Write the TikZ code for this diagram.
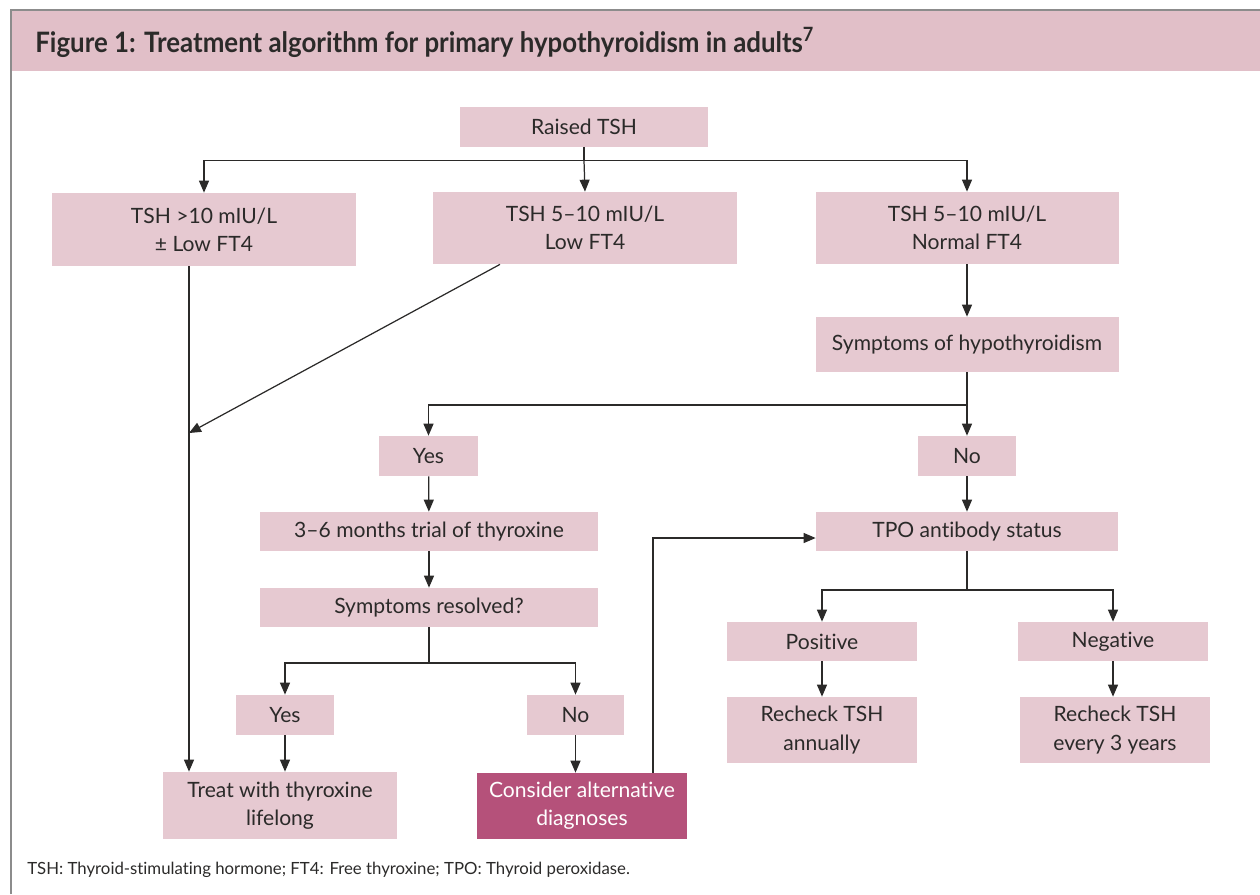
\documentclass[tikz,border=0pt]{standalone}
\usepackage{fontspec}
\setmainfont{Lato}[Ligatures={NoCommon}]
\usetikzlibrary{arrows.meta}
\definecolor{boxpink}{HTML}{E6C9D1}
\definecolor{headpink}{HTML}{E1BFC8}
\definecolor{darkpink}{HTML}{B5517A}
\definecolor{txt}{HTML}{2B2A29}
\definecolor{frame}{HTML}{8C8C8C}
\tikzset{
  box/.style={fill=boxpink, inner sep=0pt, align=center, text=txt,
    font=\fontsize{12}{16}\selectfont},
  alt/.style={box, fill=darkpink, text=white},
  conn/.style={draw=txt, line width=0.7pt},
  arr/.style={conn, -{Triangle[length=0.24cm, width=0.2cm]}},
  bs/.style 2 args={minimum width={#1*0.02cm}, minimum height={#2*0.02cm}},
}
\begin{document}
\begin{tikzpicture}[x=0.02cm, y=-0.02cm]
\useasboundingbox (0,0) rectangle (1260,894);
% frame and header
\fill[headpink] (11,11) rectangle (1260,71);
\draw[frame, line width=0.8pt] (11,894) -- (11,10) -- (1260,10);
\node[anchor=west, text=txt, inner sep=0pt] (title) at (35,42)
  {\scalebox{0.92}[1]{\fontsize{16}{19}\selectfont\bfseries Figure 1: Treatment algorithm for primary hypothyroidism in adults\textsuperscript{7}}};
\node[anchor=west, text=txt, inner sep=0pt, font=\fontsize{9.55}{11}\selectfont] (foot) at (27,870)
  {TSH: Thyroid-stimulating hormone; FT4: Free thyroxine; TPO: Thyroid peroxidase.};

% boxes
\node[box, bs={248}{40}] (raised) at (584,126.5) {Raised TSH};
\node[box, bs={304}{73}] (tshA) at (204,229.5) {TSH >10 mIU/L\\± Low FT4};
\node[box, bs={304}{72}] (tshB) at (585,228) {TSH 5–10 mIU/L\\Low FT4};
\node[box, bs={303}{72}] (tshC) at (967,228) {TSH 5–10 mIU/L\\Normal FT4};
\node[box, bs={303}{55}] (sympt) at (967,344.5) {Symptoms of hypothyroidism};
\node[box, bs={99}{40}] (yes1) at (428.5,456) {Yes};
\node[box, bs={98}{40}] (no1) at (967,456) {No};
\node[box, bs={338}{39}] (trial) at (429,531.5) {3–6 months trial of thyroxine};
\node[box, bs={302}{39}] (tpo) at (967,531.5) {TPO antibody status};
\node[box, bs={338}{39}] (resolved) at (429,607.5) {Symptoms resolved?};
\node[box, bs={98}{40}] (yes2) at (285,715) {Yes};
\node[box, bs={97}{40}] (no2) at (575.5,715) {No};
\node[box, bs={234}{67}] (treat) at (280,805.5) {Treat with thyroxine\\lifelong};
\node[alt, bs={210}{66}] (consider) at (582,806) {Consider alternative\\diagnoses};
\node[box, bs={190}{39}] (pos) at (822,641.5) {Positive};
\node[box, bs={190}{39}] (neg) at (1113,641.5) {Negative};
\node[box, bs={190}{66}] (recA) at (822,730) {Recheck TSH\\annually};
\node[box, bs={190}{66}] (recB) at (1115,730) {Recheck TSH\\every 3 years};

% junctions
\coordinate (j1) at (584,160.5);
\coordinate (m1) at (189,433);
\coordinate (j2) at (967,405);
\coordinate (j3) at (429,663);
\coordinate (c1) at (653,538);
\coordinate (j4) at (967,590);

% connectors
\draw[conn] (raised.south) -- (j1);
\draw[arr] (j1) -| (tshA.north);
\draw[arr] (j1) -- (tshB.north);
\draw[arr] (j1) -| (tshC.north);
\draw[arr] (tshA.south -| m1) -- (treat.north -| m1);
\draw[arr] ([xshift=-1.7cm]tshB.south) -- (m1);
\draw[arr] (tshC) -- (sympt);
\draw[conn] (sympt.south) -- (j2);
\draw[arr] (j2) -| (yes1.north);
\draw[arr] (j2) -- (no1.north);
\draw[arr] (yes1) -- (trial);
\draw[arr] (trial) -- (resolved);
\draw[arr] (no1) -- (tpo);
\draw[conn] (resolved.south) -- (j3);
\draw[arr] (j3) -| (yes2.north);
\draw[arr] (j3) -| (no2.north);
\draw[arr] (yes2.south) -- (yes2.south |- treat.north);
\draw[arr] (no2.south) -- (no2.south |- consider.north);
\draw[arr] (consider.north -| c1) |- (c1 -| tpo.west);
\draw[conn] (tpo.south) -- (j4);
\draw[arr] (j4) -| (pos.north);
\draw[arr] (j4) -| (neg.north);
\draw[arr] (pos) -- (recA);
\draw[arr] (neg.south) -- (neg.south |- recB.north);
\end{tikzpicture}
\end{document}
